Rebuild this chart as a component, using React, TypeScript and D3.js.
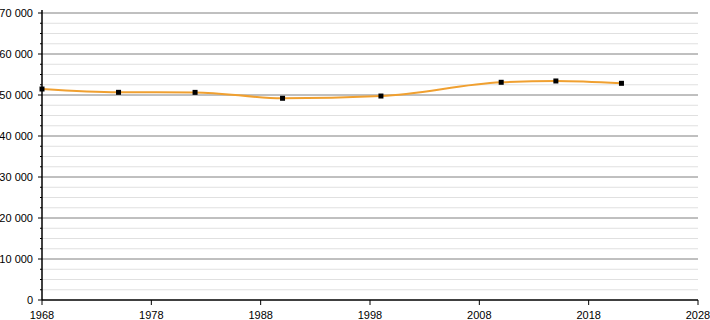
import React from "react";
import * as d3 from "d3";

const years = [1968, 1975, 1982, 1990, 1999, 2010, 2015, 2021];
const population = [51460, 50650, 50640, 49200, 49750, 53100, 53420, 52850];
const xTicks = [1968, 1978, 1988, 1998, 2008, 2018, 2028];
const yMajor = [0, 10000, 20000, 30000, 40000, 50000, 60000, 70000];

const W = 710, H = 320;
const x0 = 42, x1 = 698, yTop = 13, yBot = 300;

export default function App() {
  const x = d3.scaleLinear().domain([1968, 2028]).range([x0, x1]);
  const y = d3.scaleLinear().domain([0, 70000]).range([yBot, yTop]);
  const minor = d3.range(0, 70001, 2500).filter((v) => v % 10000 !== 0);
  const pts: [number, number][] = years.map((yr, i) => [yr, population[i]]);
  const line = d3
    .line<[number, number]>()
    .x((d) => x(d[0]))
    .y((d) => y(d[1]))
    .curve(d3.curveMonotoneX);
  const fmt = (v: number) => d3.format(",")(v).replace(/,/g, " ");
  return (
    <svg
      width={W}
      height={H}
      style={{ position: "absolute", left: 0, top: 0, background: "#fff" }}
      fontFamily="'Liberation Sans', Arial, sans-serif"
      fontSize={11}
    >
      {minor.map((v) => (
        <line key={"m" + v} x1={x0} x2={x1} y1={y(v)} y2={y(v)} stroke="#e0e0e0" strokeWidth={1} />
      ))}
      {yMajor.filter((v) => v > 0).map((v) => (
        <line key={"g" + v} x1={x0} x2={x1} y1={y(v)} y2={y(v)} stroke="#808080" strokeWidth={1} />
      ))}
      {minor.map((v) => (
        <line key={"mt" + v} x1={x0 - 2} x2={x0} y1={y(v)} y2={y(v)} stroke="#000" strokeWidth={1} />
      ))}
      {yMajor.map((v) => (
        <g key={"yt" + v}>
          <line x1={x0 - 4} x2={x0} y1={y(v)} y2={y(v)} stroke="#000" strokeWidth={1} />
          <text x={x0 - 9} y={y(v)} dy="0.35em" textAnchor="end" fill="#000">
            {fmt(v)}
          </text>
        </g>
      ))}
      {xTicks.map((t) => (
        <g key={"xt" + t}>
          <line x1={x(t)} x2={x(t)} y1={yBot} y2={yBot + 5} stroke="#000" strokeWidth={1} />
          <text x={x(t)} y={yBot + 19} textAnchor="middle" fill="#000">
            {t}
          </text>
        </g>
      ))}
      <line x1={x0} x2={x0} y1={yTop - 3} y2={yBot} stroke="#000" strokeWidth={1.5} />
      <line x1={x0} x2={x1} y1={yBot} y2={yBot} stroke="#000" strokeWidth={1.5} />
      <path d={line(pts) || ""} fill="none" stroke="#f0a030" strokeWidth={2} />
      {pts.map((d, i) => (
        <rect key={"p" + i} x={x(d[0]) - 2.5} y={y(d[1]) - 2.5} width={5} height={5} fill="#000" />
      ))}
    </svg>
  );
}
